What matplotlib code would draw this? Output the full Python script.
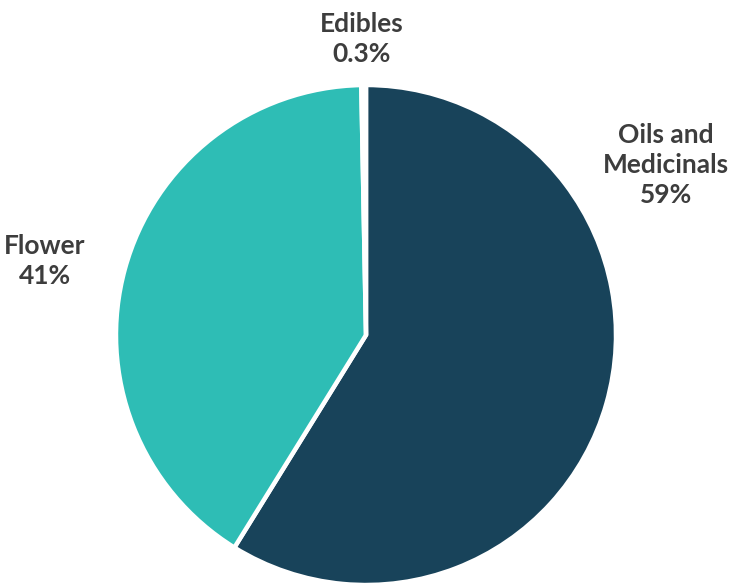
import matplotlib
matplotlib.use("Agg")
import matplotlib.pyplot as plt

categories = ["Oils and\nMedicinals", "Flower", "Edibles"]
values = [59, 41, 0.3]
pct_labels = ["59%", "41%", "0.3%"]
colors = ["#18435A", "#2EBDB5", "#FFFFFF"]

W, H = 747, 584
fig = plt.figure(figsize=(W / 100, H / 100), dpi=100)
cx, cy, r = 366, 335, 250
ax = fig.add_axes([(cx - r) / W, (H - cy - r) / H, 2 * r / W, 2 * r / H])
ax.pie(values, colors=colors, startangle=90, counterclock=False,
       wedgeprops=dict(edgecolor="white", linewidth=3.2), radius=1)
ax.set_xlim(-1.0, 1.0)
ax.set_ylim(-1.0, 1.0)
ax.set_aspect("equal")
ax.axis("off")

txt_kw = dict(fontfamily=["Lato", "DejaVu Sans"], fontweight="bold", fontsize=19,
              color="#3d3d3d", ha="center", va="center", linespacing=1.3)
label_pos = [(666, 165), (45, 261), (362, 39)]
for cat, pct, (x, y) in zip(categories, pct_labels, label_pos):
    fig.text(x / W, 1 - y / H, f"{cat}\n{pct}", **txt_kw)

fig.savefig("out.png", dpi=100)
